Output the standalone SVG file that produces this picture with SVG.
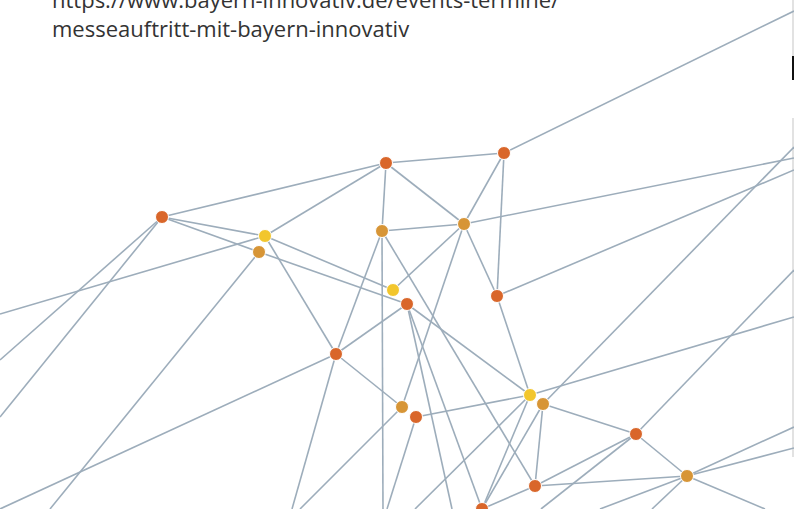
<svg xmlns="http://www.w3.org/2000/svg" width="794" height="509" viewBox="0 0 794 509">
<style>
.e{stroke:#9dadbb;stroke-width:1.6;fill:none}
.n{stroke:#ffffff;stroke-width:1}
.r{fill:#d9662a}
.a{fill:#d79536}
.y{fill:#f2c62d}
.t{font-family:"Open Sans","Noto Sans",sans-serif;font-size:22px;fill:#333333}
</style>
<rect width="794" height="509" fill="#ffffff"/>
<text class="t" x="52" y="8">https://www.bayern-innovativ.de/events-termine/</text>
<text class="t" x="52" y="37">messeauftritt-mit-bayern-innovativ</text>
<g id="frame">
<line x1="793" y1="0" x2="793" y2="80" stroke="#cfcfcf" stroke-width="1.2"/>
<rect x="792" y="56" width="2" height="24" fill="#111111"/>
<line x1="793" y1="118" x2="793" y2="457" stroke="#cfcfcf" stroke-width="1.2"/>
</g>
<g id="connectors" class="e">
<line x1="162" y1="217" x2="386" y2="163"/>
<line x1="162" y1="217" x2="265" y2="236"/>
<line x1="162" y1="217" x2="259" y2="252"/>
<line x1="259" y1="252" x2="407" y2="304"/>
<line x1="162" y1="217" x2="0" y2="360"/>
<line x1="162" y1="217" x2="0" y2="417"/>
<line x1="265" y1="236" x2="0" y2="314"/>
<line x1="265" y1="236" x2="386" y2="163"/>
<line x1="265" y1="236" x2="336" y2="354"/>
<line x1="265" y1="236" x2="393" y2="290"/>
<line x1="259" y1="252" x2="50" y2="509"/>
<line x1="336" y1="354" x2="0" y2="509"/>
<line x1="336" y1="354" x2="407" y2="304"/>
<line x1="336" y1="354" x2="382" y2="231"/>
<line x1="336" y1="354" x2="402" y2="407"/>
<line x1="336" y1="354" x2="292" y2="509"/>
<line x1="382" y1="231" x2="386" y2="163"/>
<line x1="382" y1="231" x2="464" y2="224"/>
<line x1="382" y1="231" x2="383" y2="509"/>
<line x1="382" y1="231" x2="535" y2="486"/>
<line x1="386" y1="163" x2="464" y2="224"/>
<line x1="386" y1="163" x2="504" y2="153"/>
<line x1="504" y1="153" x2="464" y2="224"/>
<line x1="504" y1="153" x2="497" y2="296"/>
<line x1="504" y1="153" x2="794" y2="11"/>
<line x1="464" y1="224" x2="393" y2="290"/>
<line x1="464" y1="224" x2="402" y2="407"/>
<line x1="464" y1="224" x2="497" y2="296"/>
<line x1="464" y1="224" x2="794" y2="158"/>
<line x1="497" y1="296" x2="794" y2="170"/>
<line x1="497" y1="296" x2="530" y2="395"/>
<line x1="407" y1="304" x2="530" y2="395"/>
<line x1="407" y1="304" x2="482" y2="509"/>
<line x1="407" y1="304" x2="452" y2="509"/>
<line x1="530" y1="395" x2="416" y2="417"/>
<line x1="530" y1="395" x2="794" y2="317"/>
<line x1="530" y1="395" x2="482" y2="509"/>
<line x1="530" y1="395" x2="415" y2="509"/>
<line x1="543" y1="404" x2="636" y2="434"/>
<line x1="543" y1="404" x2="535" y2="486"/>
<line x1="543" y1="404" x2="482" y2="509"/>
<line x1="543" y1="404" x2="794" y2="147"/>
<line x1="636" y1="434" x2="794" y2="270"/>
<line x1="636" y1="434" x2="687" y2="476"/>
<line x1="636" y1="434" x2="535" y2="486"/>
<line x1="636" y1="434" x2="541" y2="509"/>
<line x1="687" y1="476" x2="535" y2="486"/>
<line x1="687" y1="476" x2="794" y2="427"/>
<line x1="687" y1="476" x2="794" y2="448"/>
<line x1="687" y1="476" x2="765" y2="509"/>
<line x1="687" y1="476" x2="652" y2="509"/>
<line x1="687" y1="476" x2="600" y2="509"/>
<line x1="535" y1="486" x2="482" y2="509"/>
<line x1="416" y1="417" x2="387" y2="509"/>
<line x1="402" y1="407" x2="300" y2="509"/>
</g>
<g id="nA"><circle class="n r" cx="162" cy="217" r="6.5"/></g>
<g id="nB"><circle class="n r" cx="386" cy="163" r="6.5"/></g>
<g id="nC"><circle class="n r" cx="504" cy="153" r="6.5"/></g>
<g id="nD"><circle class="n y" cx="265" cy="236" r="6.5"/></g>
<g id="nE"><circle class="n a" cx="259" cy="252" r="6.5"/></g>
<g id="nF"><circle class="n a" cx="382" cy="231" r="6.5"/></g>
<g id="nG"><circle class="n a" cx="464" cy="224" r="6.5"/></g>
<g id="nH"><circle class="n y" cx="393" cy="290" r="6.5"/></g>
<g id="nI"><circle class="n r" cx="407" cy="304" r="6.5"/></g>
<g id="nJ"><circle class="n r" cx="497" cy="296" r="6.5"/></g>
<g id="nK"><circle class="n r" cx="336" cy="354" r="6.5"/></g>
<g id="nL"><circle class="n a" cx="402" cy="407" r="6.5"/></g>
<g id="nM"><circle class="n r" cx="416" cy="417" r="6.5"/></g>
<g id="nN"><circle class="n y" cx="530" cy="395" r="6.5"/></g>
<g id="nO"><circle class="n a" cx="543" cy="404" r="6.5"/></g>
<g id="nP"><circle class="n r" cx="636" cy="434" r="6.5"/></g>
<g id="nQ"><circle class="n a" cx="687" cy="476" r="6.5"/></g>
<g id="nR"><circle class="n r" cx="535" cy="486" r="6.5"/></g>
<g id="nS"><circle class="n r" cx="482" cy="509" r="6.5"/></g>
</svg>
